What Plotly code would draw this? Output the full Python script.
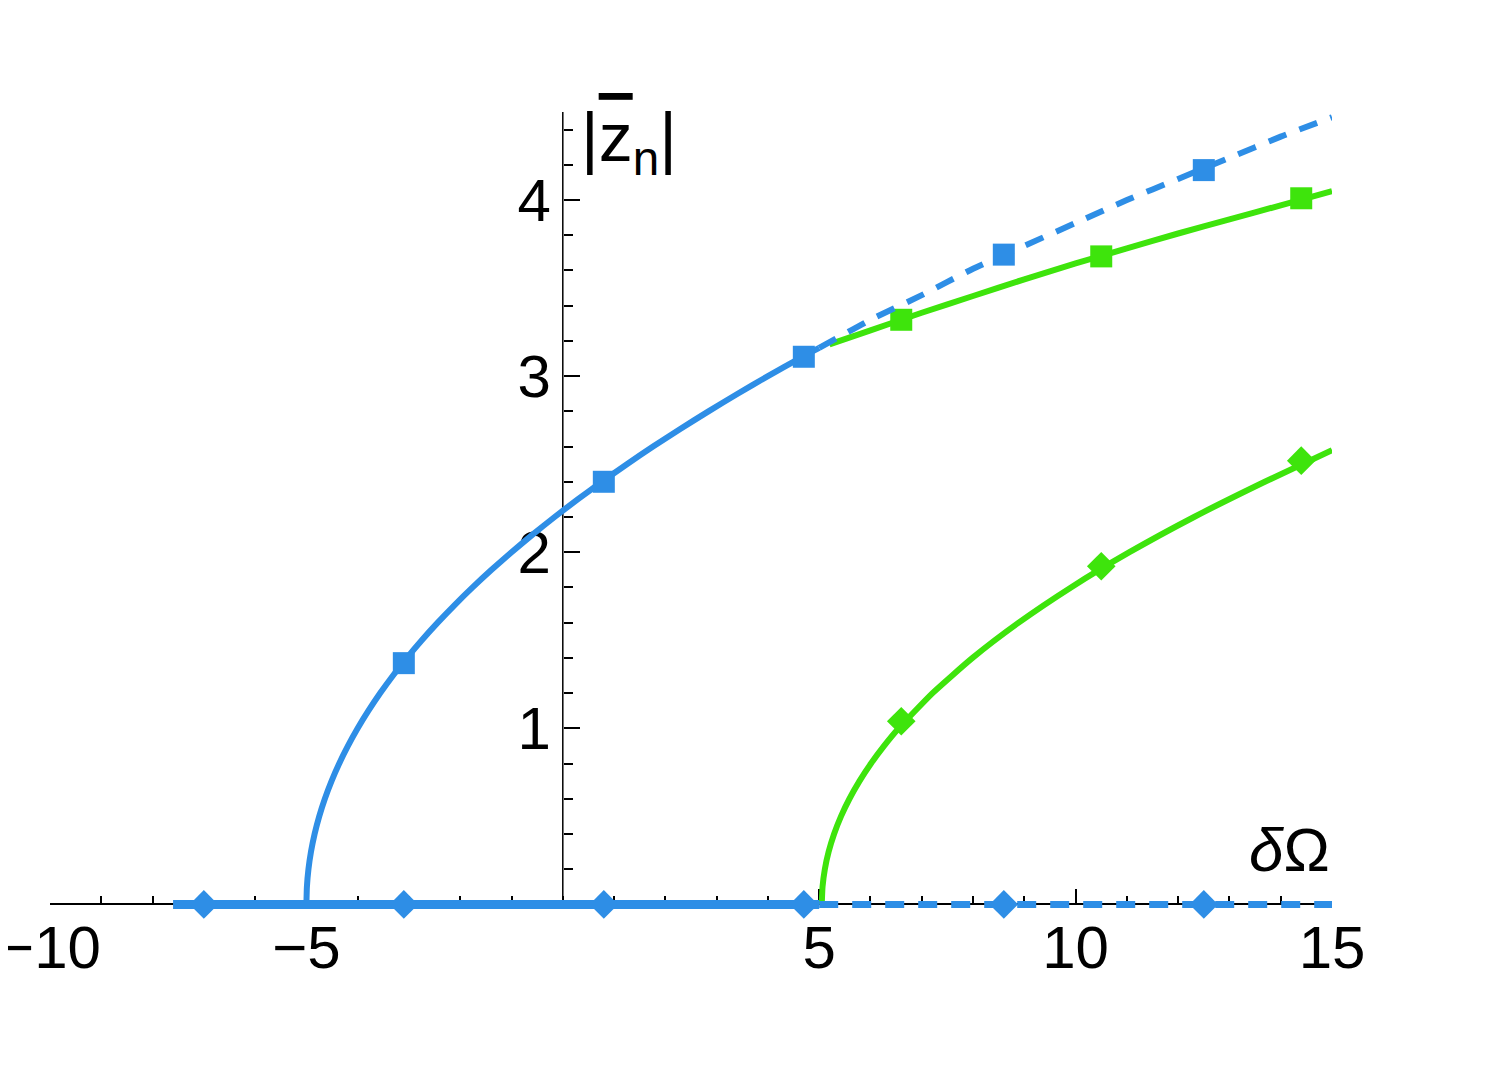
# %%
#
import plotly.graph_objects as go

BLUE = "#2e8ee6"
GREEN = "#3ee40c"
FONT = "Liberation Sans"

# %%
# Values
# blue branch, |z_n| > 0, stable part (solid) and unstable part (dashed)
blue_x = [-5.0, -4.99, -4.96, -4.91, -4.84, -4.75, -4.64, -4.51, -4.36, -4.19, -4.0, -3.79, -3.56, -3.31,
          -3.04, -2.75, -2.44, -2.11, -1.76, -1.39, -1.0, -0.59, -0.16, 0.29, 0.76, 1.25, 1.76, 2.29,
          2.84, 3.41, 4.0, 4.61, 5.0]
blue_y = [0.0, 0.1, 0.2, 0.3, 0.4, 0.5, 0.6, 0.7, 0.8, 0.9, 1.0, 1.1, 1.2, 1.3,
          1.4, 1.5, 1.6, 1.7, 1.8, 1.9, 2.0, 2.1, 2.2, 2.3, 2.4, 2.5, 2.6, 2.7,
          2.8, 2.9, 3.0, 3.1, 3.16]
blue_dash_x = [5.0, 6.0, 7.0, 8.0, 9.0, 10.0, 11.0, 12.0, 13.0, 14.0, 15.0]
blue_dash_y = [3.16, 3.32, 3.46, 3.61, 3.74, 3.87, 4.0, 4.12, 4.24, 4.36, 4.47]

# blue branch on the axis (|z_n| = 0)
blue_zero_x = [-7.6, 5.0]
blue_zero_y = [0.0, 0.0]
blue_zero_dash_x = [5.0, 15.0]
blue_zero_dash_y = [0.0, 0.0]

# green branches
green_up_x = [5.2, 6.0, 7.0, 8.0, 9.0, 10.0, 11.0, 12.0, 13.0, 14.0, 15.0]
green_up_y = [3.18, 3.26, 3.36, 3.455, 3.55, 3.64, 3.725, 3.81, 3.89, 3.97, 4.05]
green_low_x = [5.05, 5.065, 5.11, 5.185, 5.29, 5.425, 5.59, 5.785, 6.01, 6.265, 6.55, 7.21, 7.99,
               8.89, 9.91, 11.05, 12.31, 13.69, 15.0]
green_low_y = [0.0, 0.1, 0.2, 0.3, 0.4, 0.5, 0.6, 0.7, 0.8, 0.9, 1.0, 1.2, 1.4,
               1.6, 1.8, 2.0, 2.2, 2.4, 2.58]

# markers
blue_sq_x = [-3.1, 0.8, 4.7, 8.6, 12.5]
blue_sq_y = [1.37, 2.40, 3.11, 3.69, 4.17]
blue_dia_x = [-7.0, -3.1, 0.8, 4.7, 8.6, 12.5]
blue_dia_y = [0.0, 0.0, 0.0, 0.0, 0.0, 0.0]
green_sq_x = [6.6, 10.5, 14.4]
green_sq_y = [3.32, 3.68, 4.01]
green_dia_x = [6.6, 10.5, 14.4]
green_dia_y = [1.04, 1.92, 2.52]

# axes
x_range = [-10, 15]
y_range = [-0.1, 4.5]
x_tickvals = [-10, -5, 5, 10, 15]
x_ticktext = ["\u221210", "\u22125", "5", "10", "15"]
y_tickvals = [1, 2, 3, 4]
y_ticktext = ["1", "2", "3", "4"]


# %%
def line(x, y, color, dash="solid", width=6):
    return go.Scatter(
        x=x, y=y, mode="lines", line=dict(color=color, width=width, dash=dash, shape="spline", smoothing=0.5),
        hoverinfo="skip", showlegend=False,
    )


def marks(x, y, color, symbol, size):
    return go.Scatter(
        x=x, y=y, mode="markers", marker=dict(color=color, symbol=symbol, size=size, line=dict(width=0)),
        cliponaxis=False, showlegend=False,
    )


fig = go.Figure()

# green first, blue drawn over it
fig.add_trace(line(green_up_x, green_up_y, GREEN))
fig.add_trace(line(green_low_x, green_low_y, GREEN))
fig.add_trace(marks(green_sq_x, green_sq_y, GREEN, "square", 22))
fig.add_trace(marks(green_dia_x, green_dia_y, GREEN, "diamond", 22))

fig.add_trace(line(blue_x, blue_y, BLUE))
fig.add_trace(line(blue_dash_x, blue_dash_y, BLUE, dash="19px,14px"))
fig.add_trace(line(blue_zero_x, blue_zero_y, BLUE, width=9))
fig.add_trace(line(blue_zero_dash_x, blue_zero_dash_y, BLUE, dash="19px,14px", width=7))
fig.add_trace(marks(blue_sq_x, blue_sq_y, BLUE, "square", 22))
fig.add_trace(marks(blue_dia_x, blue_dia_y, BLUE, "diamond", 22))

# axes crossing at the origin
x_pos = (0 - x_range[0]) / (x_range[1] - x_range[0])
y_pos = (0 - y_range[0]) / (y_range[1] - y_range[0])

# page body adds 8px around the figure, so the figure is 8px smaller
fig.update_layout(
    width=1481,
    height=1059,
    margin=dict(l=42, r=157, t=104, b=145),
    plot_bgcolor="white",
    paper_bgcolor="white",
    font=dict(family=FONT, size=60, color="black"),
    xaxis=dict(
        range=x_range, anchor="free", position=y_pos, showgrid=False, zeroline=False, automargin=False,
        showline=True, linecolor="black", linewidth=1.5, ticklabeloverflow="allow", ticklabelstandoff=-9,
        tickmode="array", tickvals=x_tickvals, ticktext=x_ticktext,
        ticks="inside", ticklen=15, tickwidth=1.5, tickcolor="black",
        minor=dict(tickmode="linear", tick0=0, dtick=1, ticks="inside", ticklen=8, tickwidth=1.5, tickcolor="black", showgrid=False),
        layer="below traces",
    ),
    yaxis=dict(
        range=y_range, anchor="free", position=x_pos, showgrid=False, zeroline=False, automargin=False,
        showline=False, ticklabeloverflow="allow", ticklabelstandoff=12,
        tickmode="array", tickvals=y_tickvals, ticktext=y_ticktext,
        ticks="inside", ticklen=16, tickwidth=1.5, tickcolor="black",
        minor=dict(tickmode="linear", tick0=0, dtick=0.2, ticks="inside", ticklen=9, tickwidth=1.5, tickcolor="black", showgrid=False),
        layer="below traces",
    ),
    shapes=[
        dict(type="line", xref="x", yref="y", x0=0, x1=0, y0=0, y1=y_range[1],
             line=dict(color="black", width=1.5), layer="below"),
    ],
    annotations=[
        dict(x=15, y=0.31, xref="x", yref="y", text="<i>\u03b4</i>\u03a9", showarrow=False,
             xanchor="right", yanchor="middle", font=dict(family=FONT, size=62)),
        dict(x=0, y=4.33, xref="x", yref="y",
             text="|<span style='text-decoration:overline'>z</span><sub>n</sub>|", showarrow=False,
             xanchor="left", yanchor="middle", xshift=16, font=dict(family=FONT, size=68)),
    ],
)

fig.write_html("out.html")
